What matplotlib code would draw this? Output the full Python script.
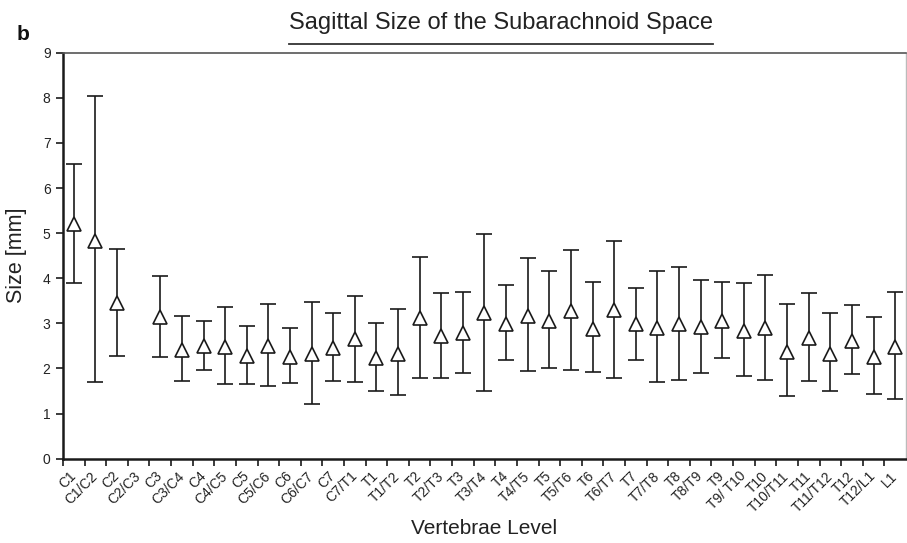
import numpy as np
import matplotlib
matplotlib.use("Agg")
import matplotlib.pyplot as plt
from matplotlib.lines import Line2D

plt.rcParams["font.family"] = ["Liberation Sans", "DejaVu Sans"]

levels = [
    "C1", "C1/C2", "C2", "C2/C3", "C3", "C3/C4", "C4", "C4/C5", "C5", "C5/C6",
    "C6", "C6/C7", "C7", "C7/T1", "T1", "T1/T2", "T2", "T2/T3", "T3", "T3/T4",
    "T4", "T4/T5", "T5", "T5/T6", "T6", "T6/T7", "T7", "T7/T8", "T8", "T8/T9",
    "T9", "T9/ T10", "T10", "T10/T11", "T11", "T11/T12", "T12", "T12/L1", "L1"
]

# mean size [mm], nan where no value is shown
mean_size = [
    5.20, 4.83, 3.45, np.nan, 3.15, 2.42, 2.50, 2.47, 2.28, 2.50,
    2.25, 2.33, 2.45, 2.65, 2.23, 2.33, 3.12, 2.72, 2.78, 3.22,
    2.98, 3.17, 3.05, 3.27, 2.88, 3.30, 2.98, 2.90, 2.98, 2.91,
    3.05, 2.83, 2.90, 2.37, 2.68, 2.32, 2.61, 2.26, 2.47
]
upper_size = [
    6.53, 8.04, 4.64, np.nan, 4.06, 3.17, 3.05, 3.36, 2.95, 3.44,
    2.90, 3.47, 3.22, 3.61, 3.00, 3.32, 4.47, 3.68, 3.70, 4.98,
    3.84, 4.46, 4.15, 4.63, 3.91, 4.83, 3.79, 4.15, 4.26, 3.96,
    3.92, 3.89, 4.08, 3.44, 3.67, 3.22, 3.41, 3.14, 3.70
]
lower_size = [
    3.89, 1.69, 2.28, np.nan, 2.25, 1.72, 1.97, 1.66, 1.66, 1.61,
    1.68, 1.22, 1.73, 1.70, 1.51, 1.42, 1.80, 1.80, 1.90, 1.49,
    2.19, 1.95, 2.00, 1.97, 1.92, 1.80, 2.19, 1.70, 1.75, 1.90,
    2.23, 1.83, 1.75, 1.40, 1.73, 1.51, 1.88, 1.44, 1.32
]

mean = np.array(mean_size)
err = [mean - np.array(lower_size), np.array(upper_size) - mean]
x = np.arange(len(levels)) + 0.5

fig = plt.figure(figsize=(9.07, 5.43), dpi=100)
ax = fig.add_axes([63 / 907, 1 - 458.7 / 543, 843 / 907, 406 / 543])

ax.errorbar(x, mean, yerr=err, fmt="none", ecolor="#1a1a1a",
            elinewidth=1.2, capsize=6, capthick=1.2, zorder=2)
ax.plot(x, mean, linestyle="none", marker="^", markersize=9.5,
        markerfacecolor="white", markeredgecolor="#1a1a1a",
        markeredgewidth=1.2, zorder=3)

ax.set_xlim(0, len(levels))
ax.set_ylim(0, 9)
ax.set_yticks(range(10))
ax.set_xticks(np.arange(len(levels)))
ax.set_xticklabels([])
ax.set_xticks(x, minor=True)
ax.set_xticklabels(levels, minor=True, rotation=45, ha="right", va="center",
                   rotation_mode="anchor", fontsize=10, color="#222222")
ax.tick_params(axis="x", which="minor", length=0, pad=11)
ax.tick_params(axis="x", which="major", direction="out", length=5, width=1.2,
               color="#1a1a1a")
ax.tick_params(axis="y", direction="out", length=5, width=1.2,
               color="#1a1a1a", labelsize=10, labelcolor="#222222", pad=4)

for side in ["left", "bottom"]:
    ax.spines[side].set_linewidth(1.8)
    ax.spines[side].set_color("#1a1a1a")
ax.spines["top"].set_linewidth(1.2)
ax.spines["top"].set_color("#555555")
ax.spines["right"].set_linewidth(1.0)
ax.spines["right"].set_color("#bbbbbb")

ax.set_ylabel("Size [mm]", fontsize=15.5, color="#222222", va="center")
ax.yaxis.set_label_coords(-46 / 843, 0.5)
ax.set_xlabel("Vertebrae Level", fontsize=15, color="#222222", va="center")
ax.xaxis.set_label_coords(0.5, -(528 - 458.7) / 406)

title = fig.text(501 / 907, 1 - 29 / 543, "Sagittal Size of the Subarachnoid Space",
                 ha="center", va="baseline", fontsize=17, color="#222222")
fig.text(17 / 907, 1 - 40 / 543, "b", fontsize=15, fontweight="bold",
         va="baseline", color="#111111")

# underline the title
fig.canvas.draw()
bb = title.get_window_extent().transformed(fig.transFigure.inverted())
fig.add_artist(Line2D([bb.x0, bb.x1], [1 - 44 / 543, 1 - 44 / 543],
                      transform=fig.transFigure, color="#333333", linewidth=1.3))

fig.savefig("out.png", dpi=100)
